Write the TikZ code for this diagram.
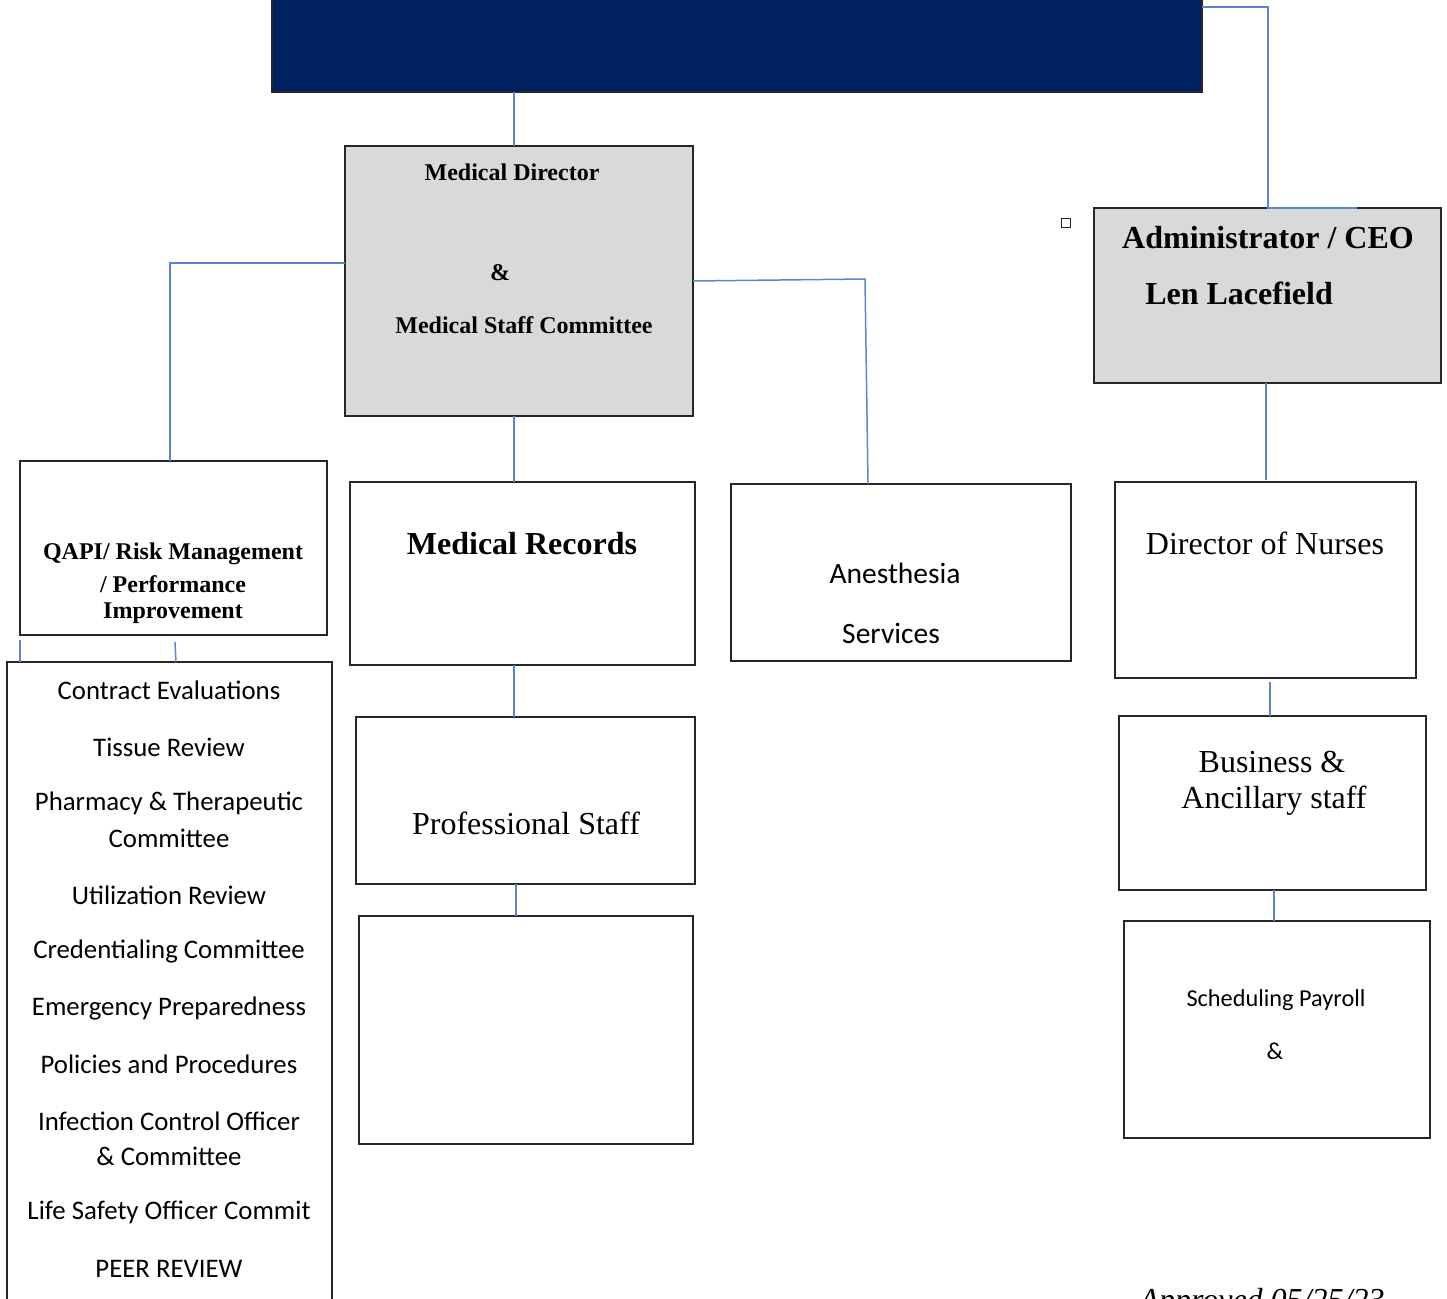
\documentclass[tikz,border=0pt]{standalone}
\usepackage{fontspec}
\setmainfont{Liberation Serif}
\newfontfamily\calfont{Carlito}
\definecolor{navy}{HTML}{002060}
\definecolor{lineblue}{HTML}{5B86CF}
\definecolor{boxgray}{HTML}{D9D9D9}
\begin{document}
\begin{tikzpicture}[x=1pt,y=-1pt,
  box/.style={draw=black!85, line width=1.3pt, anchor=north west, inner sep=0pt, outer sep=0pt},
  conn/.style={draw=lineblue, line width=1.5pt},
  txt/.style={inner sep=0pt, anchor=center, align=center},
  bsmall/.style={txt, font=\bfseries\fontsize{24}{28}\selectfont},
  blarge/.style={txt, font=\bfseries\fontsize{32}{36}\selectfont},
  rlarge/.style={txt, font=\fontsize{32}{36}\selectfont},
  sanslist/.style={txt, font=\calfont\fontsize{26.8}{30}\selectfont}]
\useasboundingbox (0,0) rectangle (1447,1298);

% boxes
\node[box, fill=navy, minimum width=930pt, minimum height=97pt] (navy) at (272,-5) {};
\node[box, fill=boxgray, minimum width=348pt, minimum height=270pt] (md) at (345,146) {};
\node[box, fill=boxgray, minimum width=347pt, minimum height=175pt] (ceo) at (1094,208) {};
\node[box, minimum width=307pt, minimum height=174pt] (qapi) at (20,461) {};
\node[box, line width=2pt, minimum width=325pt, minimum height=660pt] (list) at (7,662) {};
\node[box, minimum width=345pt, minimum height=183pt] (mr) at (350,482) {};
\node[box, minimum width=339pt, minimum height=167pt] (ps) at (356,717) {};
\node[box, minimum width=334pt, minimum height=228pt] (empty) at (359,916) {};
\node[box, minimum width=340pt, minimum height=177pt] (an) at (731,484) {};
\node[box, minimum width=301pt, minimum height=196pt] (dn) at (1115,482) {};
\node[box, minimum width=307pt, minimum height=174pt] (ba) at (1119,716) {};
\node[box, minimum width=306pt, minimum height=217pt] (sp) at (1124,921) {};
\node[box, line width=1pt, minimum width=9pt, minimum height=9pt] (sq) at (1061,218) {};

% connectors
\draw[conn] (navy.east |- 0,7) -- (1268,7) -- (ceo.north -| 1268,0) -- (ceo.north -| 1357,0);
\draw[conn] (navy.south -| 514,0) -- (md.north -| 514,0);
\draw[conn] (md.west |- 0,263) -- (170,263) -- (qapi.north -| 170,0);
\draw[conn] (md.east |- 0,281) -- (865,279) -- (an.north -| 868,0);
\draw[conn] (md.south -| 514,0) -- (mr.north -| 514,0);
\draw[conn] (mr.south -| 514,0) -- (ps.north -| 514,0);
\draw[conn] (ps.south -| 516,0) -- (empty.north -| 516,0);
\draw[conn] (20,640) -- (list.north -| 20,0);
\draw[conn] (175,642) -- (list.north -| 176,0);
\draw[conn] (ceo.south -| 1266,0) -- (1266,480);
\draw[conn] (1270,682) -- (ba.north -| 1270,0);
\draw[conn] (ba.south -| 1274,0) -- (sp.north -| 1274,0);

% texts
\node[bsmall] (mdt1) at (512,172) {Medical Director};
\node[bsmall] (mdt2) at (500,273) {\&};
\node[bsmall] (mdt3) at (524,325) {Medical Staff Committee};

\node[txt, font=\bfseries\fontsize{32}{37}\selectfont] (ceot1) at (1268,238) {Administrator / CEO};
\node[txt, font=\bfseries\fontsize{32}{37}\selectfont] (ceot2) at (1239,293) {Len Lacefield};

\node[bsmall] (q1) at (173,554) {QAPI/ Risk Management};
\node[bsmall] (q2) at (173,584) {/ Performance};
\node[bsmall] (q3) at (173,613) {Improvement};

\node[blarge] (mrt) at (522,544) {Medical Records};
\node[txt, font=\fontsize{32}{36}\selectfont] (pst) at (526,823) {Professional Staff};

\node[txt, font=\calfont\fontsize{29.5}{33}\selectfont] (an1) at (895,573) {Anesthesia};
\node[txt, font=\calfont\fontsize{29.5}{33}\selectfont] (an2) at (891,633) {Services};

\node[rlarge] (dnt) at (1265,543) {Director of Nurses};
\node[rlarge] (ba1) at (1272,762) {Business \&};
\node[rlarge] (ba2) at (1274,801) {Ancillary staff};

\node[txt, font=\calfont\fontsize{24.3}{28}\selectfont] (sp1) at (1276,1000) {Scheduling Payroll};
\node[txt, font=\calfont\fontsize{24.3}{28}\selectfont] (sp2) at (1275,1051) {\&};

\node[sanslist] (l1) at (169,690) {Contract Evaluations};
\node[sanslist] (l2) at (169,747) {Tissue Review};
\node[sanslist] (l3) at (169,803) {Pharmacy \& Therapeutic};
\node[sanslist] (l4) at (169,838) {Committee};
\node[sanslist] (l5) at (169,895) {Utilization Review};
\node[sanslist] (l6) at (169,951) {Credentialing Committee};
\node[sanslist] (l7) at (169,1008) {Emergency Preparedness};
\node[sanslist] (l8) at (169,1064) {Policies and Procedures};
\node[sanslist] (l9) at (169,1121) {Infection Control Officer};
\node[sanslist] (l10) at (169,1156) {\& Committee};
\node[sanslist] (l11) at (169,1212) {Life Safety Officer Commit};
\node[sanslist] (l12) at (169,1269) {PEER REVIEW};

\node[inner sep=0pt, anchor=base, font=\itshape\fontsize{32}{36}\selectfont] (appr) at (1262,1310) {Approved 05/25/23};
\end{tikzpicture}
\end{document}
